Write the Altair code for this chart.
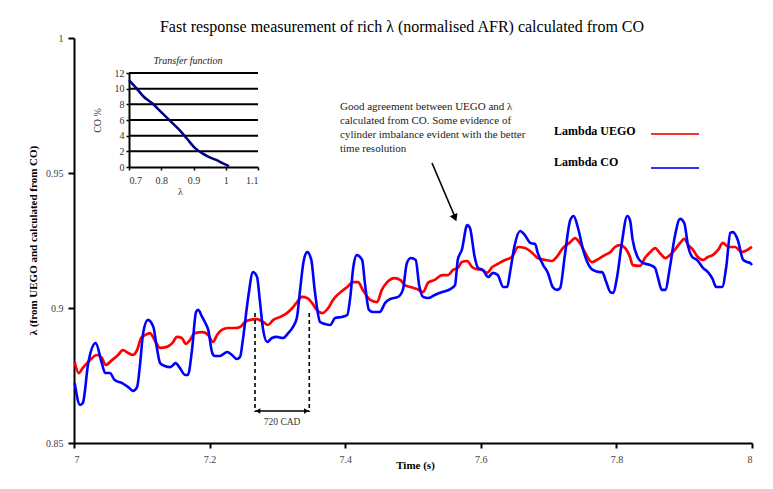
import altair as alt
import pandas as pd

FONT = "Liberation Serif"

# ---------------- data ----------------
uego_t = [7.001, 7.007, 7.013, 7.021, 7.034, 7.041, 7.047, 7.056, 7.065, 7.072, 7.080, 7.087, 7.093,
          7.099, 7.105, 7.112, 7.119, 7.127, 7.137, 7.145, 7.152, 7.159, 7.165, 7.171, 7.178, 7.190,
          7.198, 7.205, 7.211, 7.218, 7.227, 7.237, 7.245, 7.252, 7.260, 7.270, 7.279, 7.286, 7.294,
          7.304, 7.314, 7.322, 7.329, 7.336, 7.344, 7.351, 7.358, 7.366, 7.375, 7.382, 7.392, 7.403,
          7.412, 7.419, 7.426, 7.437, 7.447, 7.454, 7.462, 7.473, 7.481, 7.488, 7.496, 7.506, 7.515,
          7.522, 7.532, 7.543, 7.552, 7.559, 7.566, 7.572, 7.580, 7.587, 7.594, 7.602, 7.609, 7.617,
          7.625, 7.636, 7.646, 7.655, 7.665, 7.676, 7.684, 7.695, 7.705, 7.712, 7.721, 7.732, 7.739,
          7.746, 7.754, 7.764, 7.771, 7.783, 7.791, 7.798, 7.805, 7.813, 7.820, 7.824, 7.835, 7.842,
          7.850, 7.857, 7.864, 7.872, 7.879, 7.886, 7.894, 7.900, 7.906, 7.913, 7.920, 7.928, 7.935,
          7.942, 7.950, 7.957, 7.965, 7.975, 7.985, 7.993, 8.000]
uego_l = [0.8800, 0.8759, 0.8778, 0.8800, 0.8826, 0.8815, 0.8789, 0.8807, 0.8826, 0.8844, 0.8833,
          0.8826, 0.8844, 0.8889, 0.8900, 0.8907, 0.8881, 0.8852, 0.8856, 0.8870, 0.8893, 0.8889,
          0.8867, 0.8881, 0.8907, 0.8911, 0.8900, 0.8874, 0.8900, 0.8919, 0.8926, 0.8926, 0.8930,
          0.8948, 0.8956, 0.8959, 0.8948, 0.8937, 0.8956, 0.8967, 0.8981, 0.9000, 0.9022, 0.9041,
          0.9037, 0.9019, 0.8993, 0.8981, 0.9000, 0.9030, 0.9056, 0.9078, 0.9096, 0.9096, 0.9067,
          0.9030, 0.9022, 0.9067, 0.9096, 0.9111, 0.9104, 0.9085, 0.9078, 0.9070, 0.9059, 0.9093,
          0.9104, 0.9122, 0.9122, 0.9141, 0.9148, 0.9170, 0.9174, 0.9152, 0.9144, 0.9141, 0.9130,
          0.9152, 0.9163, 0.9178, 0.9189, 0.9226, 0.9222, 0.9204, 0.9185, 0.9178, 0.9174, 0.9189,
          0.9222, 0.9244, 0.9259, 0.9241, 0.9204, 0.9170, 0.9178, 0.9196, 0.9207, 0.9226, 0.9233,
          0.9222, 0.9189, 0.9159, 0.9156, 0.9185, 0.9207, 0.9222, 0.9204, 0.9185, 0.9196, 0.9215,
          0.9241, 0.9256, 0.9233, 0.9215, 0.9189, 0.9178, 0.9189, 0.9196, 0.9215, 0.9241, 0.9226,
          0.9226, 0.9207, 0.9215, 0.9226]

co_t = [7.001, 7.009, 7.013, 7.021, 7.032, 7.041, 7.046, 7.053, 7.060, 7.071, 7.080, 7.087, 7.093,
        7.097, 7.102, 7.109, 7.117, 7.122, 7.127, 7.134, 7.142, 7.150, 7.156, 7.164, 7.168, 7.174,
        7.180, 7.183, 7.189, 7.193, 7.198, 7.204, 7.208, 7.215, 7.226, 7.233, 7.240, 7.245, 7.249,
        7.257, 7.264, 7.270, 7.274, 7.279, 7.285, 7.292, 7.299, 7.308, 7.316, 7.323, 7.329, 7.333,
        7.339, 7.344, 7.350, 7.355, 7.363, 7.370, 7.378, 7.385, 7.395, 7.403, 7.407, 7.412, 7.417,
        7.425, 7.429, 7.435, 7.441, 7.451, 7.459, 7.466, 7.478, 7.485, 7.491, 7.497, 7.504, 7.509,
        7.515, 7.522, 7.532, 7.543, 7.555, 7.562, 7.566, 7.572, 7.580, 7.584, 7.591, 7.596, 7.603,
        7.611, 7.618, 7.625, 7.633, 7.639, 7.643, 7.650, 7.658, 7.665, 7.673, 7.680, 7.684, 7.692,
        7.699, 7.706, 7.712, 7.717, 7.724, 7.732, 7.737, 7.743, 7.751, 7.757, 7.765, 7.776, 7.779,
        7.785, 7.791, 7.795, 7.801, 7.808, 7.816, 7.820, 7.824, 7.832, 7.839, 7.850, 7.857, 7.861,
        7.867, 7.872, 7.879, 7.886, 7.894, 7.900, 7.906, 7.912, 7.919, 7.928, 7.935, 7.942, 7.947,
        7.956, 7.962, 7.968, 7.972, 7.979, 7.987, 7.993, 7.997, 8.000]
co_l = [0.8722, 0.8641, 0.8648, 0.8796, 0.8870, 0.8796, 0.8759, 0.8759, 0.8733, 0.8722, 0.8707,
        0.8693, 0.8707, 0.8781, 0.8907, 0.8956, 0.8930, 0.8856, 0.8796, 0.8785, 0.8781, 0.8796,
        0.8778, 0.8752, 0.8752, 0.8844, 0.8985, 0.8993, 0.8967, 0.8948, 0.8919, 0.8833, 0.8822,
        0.8822, 0.8837, 0.8826, 0.8811, 0.8819, 0.8881, 0.9041, 0.9133, 0.9115, 0.9030, 0.8919,
        0.8874, 0.8889, 0.8893, 0.8889, 0.8907, 0.8930, 0.8967, 0.9056, 0.9178, 0.9207, 0.9178,
        0.9067, 0.8948, 0.8941, 0.8937, 0.8963, 0.8967, 0.8974, 0.9030, 0.9152, 0.9196, 0.9178,
        0.9093, 0.8993, 0.8985, 0.8985, 0.9019, 0.9033, 0.9041, 0.9067, 0.9167, 0.9185, 0.9178,
        0.9085, 0.9041, 0.9037, 0.9048, 0.9059, 0.9070, 0.9085, 0.9178, 0.9215, 0.9307, 0.9296,
        0.9189, 0.9148, 0.9141, 0.9115, 0.9130, 0.9122, 0.9078, 0.9078, 0.9130, 0.9233, 0.9285,
        0.9270, 0.9241, 0.9237, 0.9204, 0.9159, 0.9130, 0.9078, 0.9067, 0.9074, 0.9196, 0.9326,
        0.9341, 0.9300, 0.9215, 0.9170, 0.9141, 0.9133, 0.9133, 0.9096, 0.9059, 0.9056, 0.9115,
        0.9241, 0.9341, 0.9326, 0.9252, 0.9185, 0.9167, 0.9159, 0.9148, 0.9115, 0.9067, 0.9067,
        0.9152, 0.9263, 0.9330, 0.9315, 0.9226, 0.9189, 0.9178, 0.9148, 0.9133, 0.9107, 0.9078,
        0.9078, 0.9152, 0.9278, 0.9281, 0.9252, 0.9178, 0.9170, 0.9167, 0.9159]

tf_lambda = [0.700, 0.720, 0.745, 0.773, 0.800, 0.830, 0.857, 0.880, 0.905, 0.925, 0.947, 0.970, 0.990, 1.010]
tf_co = [11.1, 10.2, 9.0, 8.1, 7.0, 5.8, 4.7, 3.6, 2.4, 1.8, 1.3, 0.9, 0.5, 0.1]

x_ticks = [7, 7.2, 7.4, 7.6, 7.8, 8]
y_ticks = [0.85, 0.9, 0.95, 1]
inset_x_ticks = [0.7, 0.8, 0.9, 1.0, 1.1]
inset_y_ticks = [0, 2, 4, 6, 8, 10, 12]
cad_t = [7.267, 7.347]

title_text = "Fast response measurement of rich \u03bb (normalised AFR) calculated from CO"
y_title = "\u03bb (from UEGO and calculated from CO)"
x_title = "Time (s)"
legend_labels = ["Lambda UEGO", "Lambda CO"]
note_lines = ["Good agreement between UEGO and \u03bb",
              "calculated from CO. Some evidence of",
              "cylinder imbalance evident with the better",
              "time resolution"]
cad_label = "720 CAD"
inset_title = "Transfer function"

# ---------------- main scales / axes ----------------
xs = alt.Scale(domain=[x_ticks[0], x_ticks[-1]], nice=False, zero=False)
ys = alt.Scale(domain=[y_ticks[0], y_ticks[-1]], nice=False, zero=False)

xaxis = alt.Axis(values=x_ticks, format="~g", title=x_title, grid=False,
                 domainColor="black", domainWidth=2, tickColor="black", tickWidth=2, tickSize=5,
                 labelFont=FONT, labelFontSize=10, labelColor="#444", labelPadding=6,
                 titleFont=FONT, titleFontSize=11, titleFontWeight="bold", titleColor="black",
                 titleX=341, titleY=22, titleBaseline="middle")
yaxis = alt.Axis(values=y_ticks, format="~g", title=y_title, grid=False,
                 domainColor="black", domainWidth=2, tickColor="black", tickWidth=2, tickSize=6,
                 labelFont=FONT, labelFontSize=10, labelColor="#444", labelPadding=5,
                 titleFont=FONT, titleFontSize=11, titleFontWeight="bold", titleColor="black",
                 titleX=-41, titleY=202, titleBaseline="middle", titleAngle=-90)

uego = pd.DataFrame({"t": uego_t, "lam": uego_l})
co = pd.DataFrame({"t": co_t, "lam": co_l})

red = alt.Chart(uego).mark_line(color="#ff0000", strokeWidth=2.7, interpolate="monotone").encode(
    x=alt.X("t:Q", scale=xs, axis=xaxis), y=alt.Y("lam:Q", scale=ys, axis=yaxis))
blue = alt.Chart(co).mark_line(color="#0000ff", strokeWidth=2.6, interpolate="monotone").encode(
    x=alt.X("t:Q", scale=xs), y=alt.Y("lam:Q", scale=ys))

cad_df = pd.DataFrame({"t": cad_t})
cad_rules = alt.Chart(cad_df).mark_rule(color="black", strokeWidth=1.6, strokeDash=[4, 3]).encode(
    x=alt.X("t:Q", scale=xs), y=alt.value(275), y2=alt.value(374))
span_df = pd.DataFrame({"a": [cad_t[0]], "b": [cad_t[1]], "m": [(cad_t[0] + cad_t[1]) / 2],
                        "label": [cad_label]})
cad_span = alt.Chart(span_df).mark_rule(color="black", strokeWidth=1.3).encode(
    x=alt.X("a:Q", scale=xs), x2="b:Q", y=alt.value(373))
head_l = alt.Chart(span_df).mark_point(shape="triangle-left", filled=True, size=28, color="black",
                                        opacity=1, xOffset=3).encode(
    x=alt.X("a:Q", scale=xs), y=alt.value(373))
head_r = alt.Chart(span_df).mark_point(shape="triangle-right", filled=True, size=28, color="black",
                                        opacity=1, xOffset=-3).encode(
    x=alt.X("b:Q", scale=xs), y=alt.value(373))
cad_text = alt.Chart(span_df).mark_text(font=FONT, fontSize=9.5, color="#333", baseline="middle").encode(
    x=alt.X("m:Q", scale=xs), y=alt.value(384), text="label:N")

one = pd.DataFrame({"k": [0]})
title_mark = alt.Chart(one).mark_text(text=title_text, font=FONT, fontSize=16, color="black",
                                      align="center", baseline="middle").encode(
    x=alt.value(328), y=alt.value(-11))
leg1 = alt.Chart(one).mark_text(text=legend_labels[0], font=FONT, fontSize=12, fontWeight="bold",
                                align="left", baseline="middle", color="black").encode(
    x=alt.value(480), y=alt.value(93))
leg2 = alt.Chart(one).mark_text(text=legend_labels[1], font=FONT, fontSize=12, fontWeight="bold",
                                align="left", baseline="middle", color="black").encode(
    x=alt.value(480), y=alt.value(124))
leg1_line = alt.Chart(one).mark_rule(color="#ff3030", strokeWidth=2).encode(
    x=alt.value(577), x2=alt.value(625), y=alt.value(96))
leg2_line = alt.Chart(one).mark_rule(color="#3030ff", strokeWidth=2).encode(
    x=alt.value(577), x2=alt.value(625), y=alt.value(130))

note = alt.Chart(one).mark_text(text="\n".join(note_lines), lineBreak="\n", lineHeight=14, font=FONT,
                                fontSize=11, align="left", baseline="middle", color="#222").encode(
    x=alt.value(266), y=alt.value(69))
arrow_line = alt.Chart(one).mark_rule(color="black", strokeWidth=1.6).encode(
    x=alt.value(358), y=alt.value(125), x2=alt.value(381), y2=alt.value(179))
arrow_head = alt.Chart(one).mark_point(shape="triangle-up", filled=True, size=70, color="black",
                                       opacity=1, angle=157).encode(
    x=alt.value(381), y=alt.value(180))

inset_title_mark = alt.Chart(one).mark_text(text=inset_title, font=FONT, fontSize=10, fontStyle="italic",
                                            color="#222", baseline="middle").encode(
    x=alt.value(114), y=alt.value(23))

main = alt.layer(red, blue, cad_rules, cad_span, head_l, head_r, cad_text, title_mark,
                 leg1, leg2, leg1_line, leg2_line, note, arrow_line, arrow_head, inset_title_mark)

# ---------------- inset ----------------
ixs = alt.Scale(domain=[inset_x_ticks[0], inset_x_ticks[-1]], range=[55, 184], nice=False, zero=False)
iys = alt.Scale(domain=[inset_y_ticks[0], inset_y_ticks[-1]], range=[129, 35], nice=False, zero=False)

ix_axis = alt.Axis(orient="bottom", offset=-276, values=inset_x_ticks, format="~g", grid=False,
                   domainColor="black", domainWidth=2, tickColor="black", tickWidth=1.5, tickSize=3,
                   labelFont=FONT, labelFontSize=10, labelColor="#333", labelPadding=5,
                   title="\u03bb", titleFont=FONT, titleFontSize=10, titleFontWeight="normal",
                   titleColor="#333", titleX=106, titleY=24, titleBaseline="middle")
iy_axis = alt.Axis(orient="left", offset=-55, values=inset_y_ticks, format="d", grid=False,
                   domainColor="black", domainWidth=2, tickColor="black", tickWidth=1.5, tickSize=3,
                   labelFont=FONT, labelFontSize=10, labelColor="#333", labelPadding=2,
                   title="CO %", titleFont=FONT, titleFontSize=10, titleFontWeight="normal",
                   titleColor="#333", titleX=-32, titleY=82, titleBaseline="middle", titleAngle=-90)

grid_df = pd.DataFrame({"co": inset_y_ticks[1:],
                        "x0": [inset_x_ticks[0]] * (len(inset_y_ticks) - 1),
                        "x1": [inset_x_ticks[-1]] * (len(inset_y_ticks) - 1)})
igrid = alt.Chart(grid_df).mark_rule(color="black", strokeWidth=2).encode(
    x=alt.X("x0:Q", scale=ixs, axis=ix_axis), x2="x1:Q", y=alt.Y("co:Q", scale=iys, axis=iy_axis))
tf = pd.DataFrame({"lam": tf_lambda, "co": tf_co})
icurve = alt.Chart(tf).mark_line(color="#000080", strokeWidth=2.5, interpolate="monotone").encode(
    x=alt.X("lam:Q", scale=ixs), y=alt.Y("co:Q", scale=iys))

inset = alt.layer(igrid, icurve)

chart = alt.layer(main, inset).resolve_scale(x="independent", y="independent").properties(
    width=678, height=405,
    autosize=alt.AutoSizeParams(type="none"),
    padding={"left": 66, "top": 30, "right": 13, "bottom": 38},
    background="white",
).configure_view(stroke=None)

chart.save("out.html", embed_options={"renderer": "svg", "actions": False})
